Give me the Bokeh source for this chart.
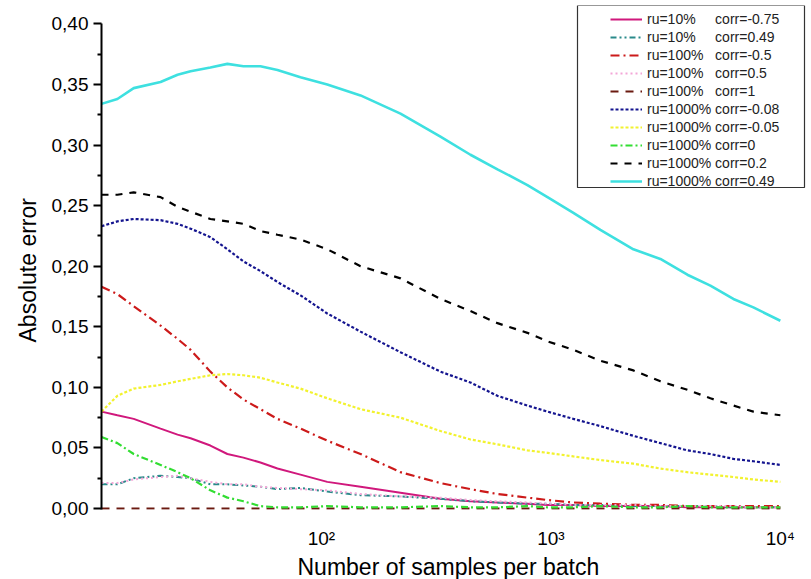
from bokeh.plotting import figure
from bokeh.models import (FixedTicker, CustomJSTickFormatter, Legend, LegendItem,
                          BoxAnnotation, Title, Range1d)
from bokeh.embed import file_html
from bokeh.resources import INLINE

# ---------------- data ----------------
samples = [11, 12.9, 15.2, 19.9, 23.6, 26.9, 32.8, 38.9, 45.7, 54.2, 64.3, 81, 106, 148,
           221, 330, 446, 585, 790, 966, 1253, 1643, 2288, 3000, 3933, 4955, 6241, 7628, 10000]

ru10_m075 = [0.080, 0.077, 0.074, 0.066, 0.061, 0.058, 0.052, 0.045, 0.042, 0.038, 0.033, 0.028,
             0.022, 0.018, 0.013, 0.008, 0.006, 0.005, 0.004, 0.003, 0.003, 0.002, 0.002, 0.002,
             0.001, 0.001, 0.001, 0.001, 0.001]
ru10_p049 = [0.020, 0.020, 0.025, 0.027, 0.026, 0.025, 0.020, 0.020, 0.019, 0.018, 0.016, 0.017,
             0.014, 0.011, 0.010, 0.008, 0.006, 0.005, 0.004, 0.004, 0.003, 0.003, 0.002, 0.002,
             0.002, 0.002, 0.001, 0.001, 0.001]
ru100_m05 = [0.183, 0.177, 0.167, 0.151, 0.140, 0.131, 0.113, 0.100, 0.090, 0.082, 0.074, 0.066,
             0.056, 0.045, 0.030, 0.021, 0.016, 0.012, 0.009, 0.007, 0.005, 0.004, 0.003, 0.003,
             0.002, 0.002, 0.002, 0.002, 0.002]
ru100_p05 = [0.021, 0.021, 0.024, 0.026, 0.027, 0.025, 0.022, 0.020, 0.020, 0.018, 0.017, 0.016,
             0.015, 0.012, 0.010, 0.009, 0.007, 0.006, 0.005, 0.004, 0.003, 0.003, 0.003, 0.002,
             0.002, 0.002, 0.002, 0.001, 0.001]
ru100_p1 = [0.0] * 29
ru1000_m008 = [0.233, 0.237, 0.239, 0.238, 0.235, 0.231, 0.224, 0.214, 0.204, 0.196, 0.187, 0.176,
               0.161, 0.146, 0.129, 0.113, 0.104, 0.093, 0.085, 0.080, 0.074, 0.068, 0.060, 0.054,
               0.048, 0.045, 0.041, 0.039, 0.036]
ru1000_m005 = [0.080, 0.093, 0.099, 0.102, 0.105, 0.107, 0.110, 0.111, 0.110, 0.108, 0.104, 0.099,
               0.091, 0.082, 0.075, 0.064, 0.057, 0.053, 0.048, 0.046, 0.043, 0.040, 0.037, 0.033,
               0.030, 0.028, 0.026, 0.024, 0.022]
ru1000_0 = [0.059, 0.054, 0.045, 0.036, 0.030, 0.025, 0.015, 0.009, 0.006, 0.002, 0.001, 0.001,
            0.002, 0.001, 0.001, 0.002, 0.001, 0.001, 0.002, 0.001, 0.001, 0.002, 0.001, 0.001,
            0.002, 0.001, 0.001, 0.001, 0.001]
ru1000_p02 = [0.259, 0.259, 0.261, 0.257, 0.249, 0.245, 0.239, 0.237, 0.235, 0.229, 0.226, 0.222,
              0.214, 0.200, 0.190, 0.173, 0.163, 0.153, 0.145, 0.138, 0.131, 0.122, 0.114, 0.105,
              0.098, 0.091, 0.085, 0.080, 0.077]
ru1000_p049 = [0.334, 0.338, 0.347, 0.352, 0.358, 0.361, 0.364, 0.367, 0.365, 0.365, 0.362, 0.356,
               0.350, 0.341, 0.326, 0.307, 0.292, 0.280, 0.267, 0.257, 0.244, 0.230, 0.214, 0.206,
               0.193, 0.184, 0.173, 0.166, 0.155]

series_labels = ["ru=10%\u00a0\u00a0\u00a0\u00a0\u00a0corr=-0.75",
                 "ru=10%\u00a0\u00a0\u00a0\u00a0\u00a0corr=0.49",
                 "ru=100%\u00a0\u00a0\u00a0corr=-0.5",
                 "ru=100%\u00a0\u00a0\u00a0corr=0.5",
                 "ru=100%\u00a0\u00a0\u00a0corr=1",
                 "ru=1000% corr=-0.08",
                 "ru=1000% corr=-0.05",
                 "ru=1000% corr=0",
                 "ru=1000% corr=0.2",
                 "ru=1000% corr=0.49"]

y_ticks = [0.00, 0.05, 0.10, 0.15, 0.20, 0.25, 0.30, 0.35, 0.40]
y_tick_labels = ["0,00", "0,05", "0,10", "0,15", "0,20", "0,25", "0,30", "0,35", "0,40"]
y_minor_ticks = [0.025, 0.075, 0.125, 0.175, 0.225, 0.275, 0.325, 0.375]
x_ticks = [100, 1000, 10000]
x_tick_labels = ["10\u00b2", "10\u00b3", "10\u2074"]

# ---------------- figure ----------------
FONT = "Liberation Sans"
p = figure(width=811, height=579, x_axis_type="log", output_backend="svg",
           toolbar_location=None, x_range=Range1d(11, 13000), y_range=Range1d(-0.0008, 0.4152),
           min_border_left=101, min_border_right=5, min_border_top=5, min_border_bottom=68)
p.outline_line_color = None
p.background_fill_color = "white"
p.border_fill_color = "white"
p.xgrid.visible = False
p.ygrid.visible = False

styles = [
    (ru10_m075, "#d0187c", 2.0, "solid"),
    (ru10_p049, "#2a8a8a", 2.0, "6 3 2 3 2 3"),
    (ru100_m05, "#cc1a1a", 2.2, "9 4 2 4"),
    (ru100_p05, "#f4a6d7", 2.0, "2 3"),
    (ru100_p1, "#6b1a10", 2.2, "8 7"),
    (ru1000_m008, "#14148f", 2.2, "3 2"),
    (ru1000_m005, "#f2f22e", 2.2, "3 2"),
    (ru1000_0, "#33dd33", 2.2, "7 3 2 3"),
    (ru1000_p02, "#000000", 2.2, "7 7"),
    (ru1000_p049, "#3ee0e0", 2.6, "solid"),
]

renderers = []
for ys, color, lw, dash in styles:
    r = p.line(samples, ys, line_color=color, line_width=lw, line_dash=dash)
    renderers.append(r)

# ---------------- axes ----------------
tick_fmt_code = """
let best = -1, bd = Infinity;
for (let i = 0; i < tvals.length; i++) {
  const d = Math.abs(tvals[i] - tick) / Math.max(1e-9, Math.abs(tvals[i]) || 1);
  if (d < bd) { bd = d; best = i; }
}
return (best >= 0 && bd < 1e-6) ? tlabels[best] : "";
"""

yax = p.yaxis[0]
yax.ticker = FixedTicker(ticks=y_ticks, minor_ticks=y_minor_ticks)
yax.formatter = CustomJSTickFormatter(args=dict(tvals=y_ticks, tlabels=y_tick_labels), code=tick_fmt_code)
yax.bounds = (-0.0008, 0.4005)
yax.axis_line_width = 2
yax.axis_line_color = "black"
yax.major_tick_in = 0
yax.major_tick_out = 8
yax.minor_tick_in = 0
yax.minor_tick_out = 4
yax.major_tick_line_width = 2
yax.minor_tick_line_width = 2
yax.major_label_text_font = FONT
yax.major_label_text_font_size = "19px"
yax.major_label_text_color = "black"
yax.major_label_standoff = 5
yax.axis_label = "Absolute error\u00a0\u00a0\u00a0\u00a0"
yax.axis_label_text_font = FONT
yax.axis_label_text_font_size = "23px"
yax.axis_label_text_font_style = "normal"
yax.axis_label_text_color = "black"
yax.axis_label_standoff = 8

xax = p.xaxis[0]
xax.ticker = FixedTicker(ticks=x_ticks, minor_ticks=[])
xax.formatter = CustomJSTickFormatter(args=dict(tvals=x_ticks, tlabels=x_tick_labels), code=tick_fmt_code)
xax.axis_line_color = None
xax.major_tick_line_color = None
xax.minor_tick_line_color = None
xax.major_tick_out = 0
xax.major_tick_in = 0
xax.major_label_standoff = 18
xax.major_label_text_font = FONT
xax.major_label_text_font_size = "19px"
xax.major_label_text_color = "black"

xtitle = Title(text="Number of samples per batch", align="left", offset=196,
               text_font=FONT, text_font_size="23px", text_font_style="normal",
               text_color="black", standoff=0)
p.add_layout(xtitle, "below")

# ---------------- legend ----------------
box = BoxAnnotation(left=476, right=703, bottom=322, top=504,
                    left_units="screen", right_units="screen",
                    top_units="screen", bottom_units="screen",
                    fill_color="white", fill_alpha=1.0,
                    line_color="#333333", line_width=1.2, line_alpha=1.0)
p.add_layout(box)

legend = Legend(items=[LegendItem(label=lab, renderers=[r]) for lab, r in zip(series_labels, renderers)],
                location=(509, 320), padding=0, margin=0,
                border_line_alpha=0, background_fill_alpha=0,
                glyph_width=32, glyph_height=14, label_height=14, label_standoff=5, spacing=2,
                label_text_font=FONT, label_text_font_size="14px", label_text_color="#222222")
p.add_layout(legend)

open("out.html", "w").write(file_html(p, INLINE))
